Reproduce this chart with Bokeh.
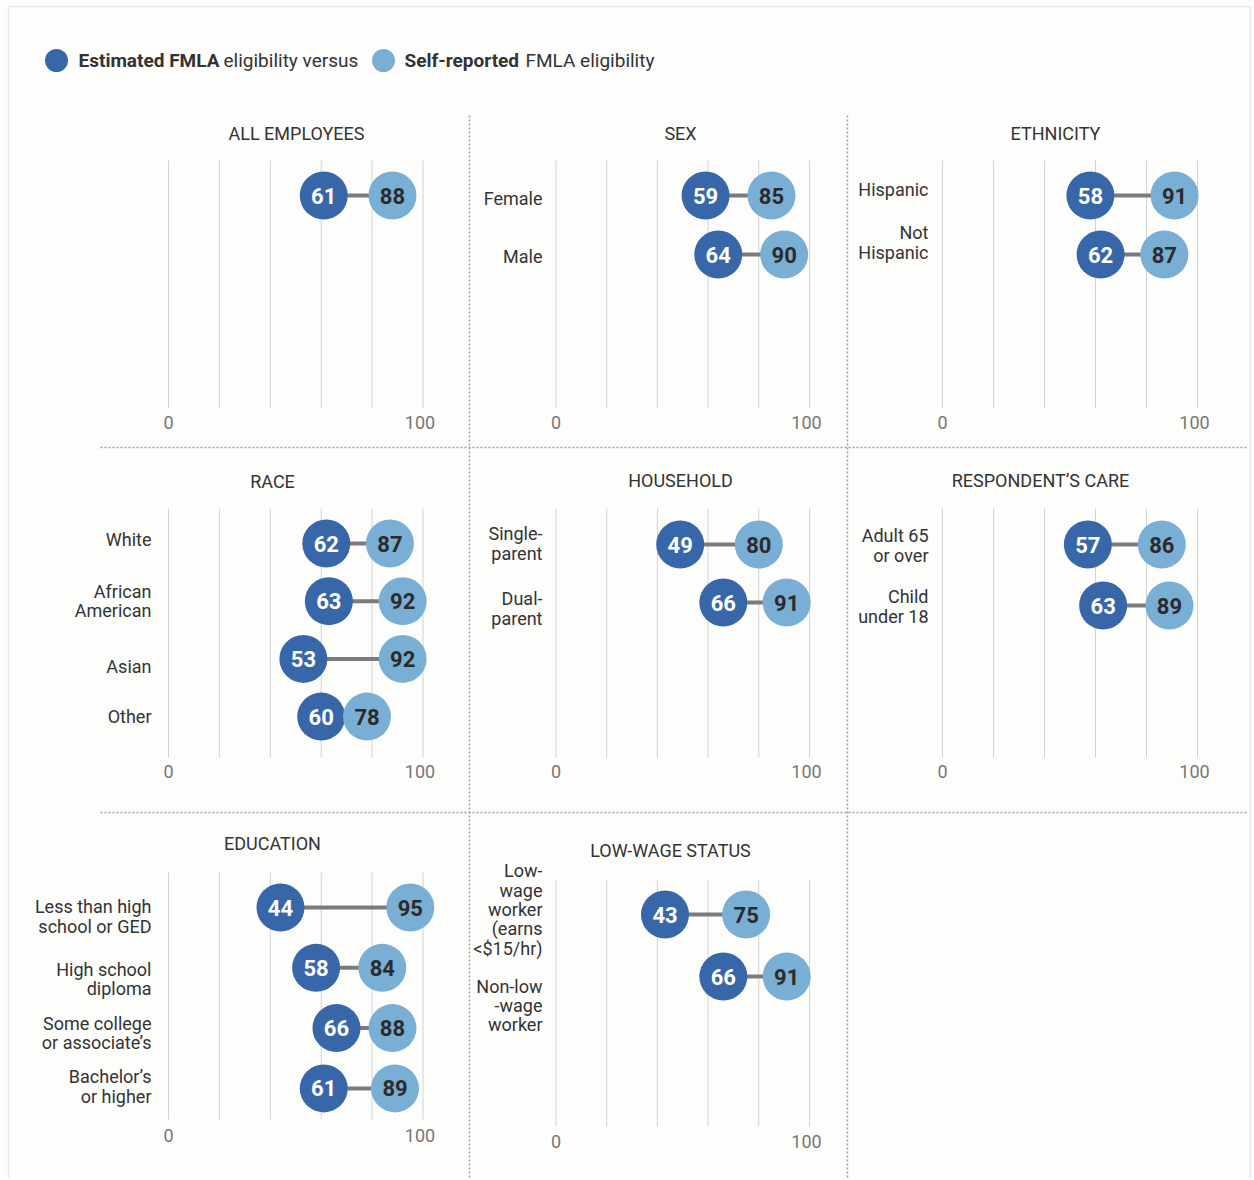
from bokeh.plotting import figure
from bokeh.models import Range1d
from bokeh.embed import file_html
from bokeh.resources import INLINE
from bokeh.core.properties import value

# ---------------- data ----------------
legend_bold = ["Estimated FMLA", "Self-reported"]
legend_rest = ["eligibility versus", "FMLA eligibility"]

grid_ticks = [0, 20, 40, 60, 80, 100]
axis_vals = [0, 100]
axis_labels = ["0", "100"]

all_title = "ALL EMPLOYEES"
all_cats = [""]
all_est = [61]
all_self = [88]

sex_title = "SEX"
sex_cats = ["Female", "Male"]
sex_est = [59, 64]
sex_self = [85, 90]

eth_title = "ETHNICITY"
eth_cats = ["Hispanic", "Not\nHispanic"]
eth_est = [58, 62]
eth_self = [91, 87]

race_title = "RACE"
race_cats = ["White", "African\nAmerican", "Asian", "Other"]
race_est = [62, 63, 53, 60]
race_self = [87, 92, 92, 78]

hh_title = "HOUSEHOLD"
hh_cats = ["Single-\nparent", "Dual-\nparent"]
hh_est = [49, 66]
hh_self = [80, 91]

care_title = "RESPONDENT\u2019S CARE"
care_cats = ["Adult 65\nor over", "Child\nunder 18"]
care_est = [57, 63]
care_self = [86, 89]

edu_title = "EDUCATION"
edu_cats = ["Less than high\nschool or GED", "High school\ndiploma",
            "Some college\nor associate\u2019s", "Bachelor\u2019s\nor higher"]
edu_est = [44, 58, 66, 61]
edu_self = [95, 84, 88, 89]

wage_title = "LOW-WAGE STATUS"
wage_cats = ["Low-\nwage\nworker\n(earns\n<$15/hr)", "Non-low\n-wage\nworker"]
wage_est = [43, 66]
wage_self = [75, 91]

# ---------------- style / layout ----------------
FONT = "Roboto"
DARK = "#3767a8"
LIGHT = "#7aafd5"
TXT = "#333333"
BG = "#fdfdfc"

W, H = 1252, 1178
OX, OY = 0, 0  # page offset of the figure

cols = {
    "c1": dict(x0=168, x100=422.5, label_right=151),
    "c2": dict(x0=555.5, x100=809, label_right=542),
    "c3": dict(x0=942, x100=1197, label_right=928),
}

panels = [
    dict(title=all_title, cats=all_cats, est=all_est, slf=all_self, col="c1",
         tx=296, ty=133, y_first=195, dy=59, gt=160, gb=408, tick_y=422, shift=[0]),
    dict(title=sex_title, cats=sex_cats, est=sex_est, slf=sex_self, col="c2",
         tx=680, ty=133, y_first=195, dy=59, gt=160, gb=408, tick_y=422, shift=[3, 2]),
    dict(title=eth_title, cats=eth_cats, est=eth_est, slf=eth_self, col="c3",
         tx=1055, ty=133, y_first=195, dy=59, gt=160, gb=408, tick_y=422, shift=[-6, -12]),
    dict(title=race_title, cats=race_cats, est=race_est, slf=race_self, col="c1",
         tx=272, ty=481, y_first=543, dy=57.7, gt=508, gb=757, tick_y=771, shift=[-4, 0, 8, 0]),
    dict(title=hh_title, cats=hh_cats, est=hh_est, slf=hh_self, col="c2",
         tx=680, ty=480, y_first=544, dy=58, gt=508, gb=757, tick_y=771, shift=[-1, 6]),
    dict(title=care_title, cats=care_cats, est=care_est, slf=care_self, col="c3",
         tx=1040, ty=480, y_first=544, dy=61, gt=508, gb=757, tick_y=771, shift=[1, 1]),
    dict(title=edu_title, cats=edu_cats, est=edu_est, slf=edu_self, col="c1",
         tx=272, ty=843, y_first=907, dy=60.3, gt=872, gb=1119, tick_y=1135, shift=[9, 11, 5, -2]),
    dict(title=wage_title, cats=wage_cats, est=wage_est, slf=wage_self, col="c2",
         tx=670, ty=850, y_first=914, dy=62, gt=879, gb=1126, tick_y=1141, shift=[-5, 29]),
]

p = figure(width=W, height=H, x_range=Range1d(0, W), y_range=Range1d(H, 0),
           x_axis_location=None, y_axis_location=None, min_border=0,
           toolbar_location=None, output_backend="svg",
           background_fill_color=BG, border_fill_color=BG)
p.grid.visible = False
p.outline_line_color = None

# outer faint frame
p.quad(left=[8 - OX], right=[1250 - OX], top=[6 - OY], bottom=[H + 5], fill_color=None,
       line_color="#e9e9e9", line_width=1.5)

# column ranges (value 0..100 -> pixel)
for name, c in cols.items():
    s = (c["x100"] - c["x0"]) / 100.0
    a = -(c["x0"] - OX) / s
    p.extra_x_ranges[name] = Range1d(a, a + W / s)

# separators (dotted)
sep_col = "#9c9c9c"
p.segment(x0=[469 - OX, 847 - OX], x1=[469 - OX, 847 - OX], y0=[115 - OY] * 2, y1=[H, H],
          line_color=sep_col, line_width=1.5, line_dash="2 2")
p.segment(x0=[100 - OX, 100 - OX], x1=[1248 - OX, 1248 - OX], y0=[447 - OY, 812 - OY],
          y1=[447 - OY, 812 - OY], line_color=sep_col, line_width=1.5, line_dash="2 2")

for i, pn in enumerate(panels):
    col = pn["col"]
    c = cols[col]
    yname = f"p{i}"
    dy = pn["dy"]
    a = -(pn["y_first"] - OY) / dy
    p.extra_y_ranges[yname] = Range1d(a + H / dy, a)
    n = len(pn["cats"])
    idx = list(range(n))

    # gridlines
    p.segment(x0=grid_ticks, x1=grid_ticks, y0=[pn["gt"] - OY] * len(grid_ticks),
              y1=[pn["gb"] - OY] * len(grid_ticks), x_range_name=col,
              line_color="#d2d2d2", line_width=1)
    # tick labels
    p.text(x=axis_vals, y=[pn["tick_y"] - OY] * 2, text=axis_labels, x_range_name=col,
           x_offset=[0, -3], text_font=value(FONT), text_font_size="18px",
           text_color="#777777", text_align="center", text_baseline="middle")
    # title
    p.text(x=[pn["tx"] - OX], y=[pn["ty"] - OY], text=[pn["title"]],
           text_font=value(FONT), text_font_size="18px", text_color=TXT,
           text_align="center", text_baseline="middle")
    # category labels
    p.text(x=[c["label_right"] - OX] * n,
           y=[pn["y_first"] + k * dy + pn["shift"][k] - OY for k in idx],
           text=pn["cats"], text_font=value(FONT), text_font_size="18px",
           text_color=TXT, text_align="right", text_baseline="middle",
           text_line_height=0.92)
    # connector
    p.segment(x0=pn["est"], x1=pn["slf"], y0=idx, y1=idx, x_range_name=col,
              y_range_name=yname, line_color="#7b7b7b", line_width=4)
    # dots
    p.scatter(x=pn["est"], y=idx, size=48, fill_color=DARK, line_color=None,
              x_range_name=col, y_range_name=yname)
    p.scatter(x=pn["slf"], y=idx, size=48, fill_color=LIGHT, line_color=None,
              x_range_name=col, y_range_name=yname)
    p.text(x=pn["est"], y=idx, text=[str(v) for v in pn["est"]], x_range_name=col,
           y_range_name=yname, text_font=value(FONT), text_font_style="bold",
           text_font_size="22px", text_color="white", text_align="center",
           text_baseline="middle")
    p.text(x=pn["slf"], y=idx, text=[str(v) for v in pn["slf"]], x_range_name=col,
           y_range_name=yname, text_font=value(FONT), text_font_style="bold",
           text_font_size="22px", text_color="#2b2b2b", text_align="center",
           text_baseline="middle")

# legend
p.scatter(x=[56 - OX, 383 - OX], y=[60 - OY, 60 - OY], size=23,
          fill_color=[DARK, LIGHT], line_color=None)
p.text(x=[78 - OX, 404 - OX], y=[60 - OY] * 2, text=legend_bold, text_font=value(FONT),
       text_font_style="bold", text_font_size="19px", text_color=TXT,
       text_align="left", text_baseline="middle")
p.text(x=[223 - OX, 525 - OX], y=[60 - OY] * 2, text=legend_rest, text_font=value(FONT),
       text_font_size="19px", text_color=TXT, text_align="left", text_baseline="middle")

open("out.html", "w").write(file_html(p, INLINE))
